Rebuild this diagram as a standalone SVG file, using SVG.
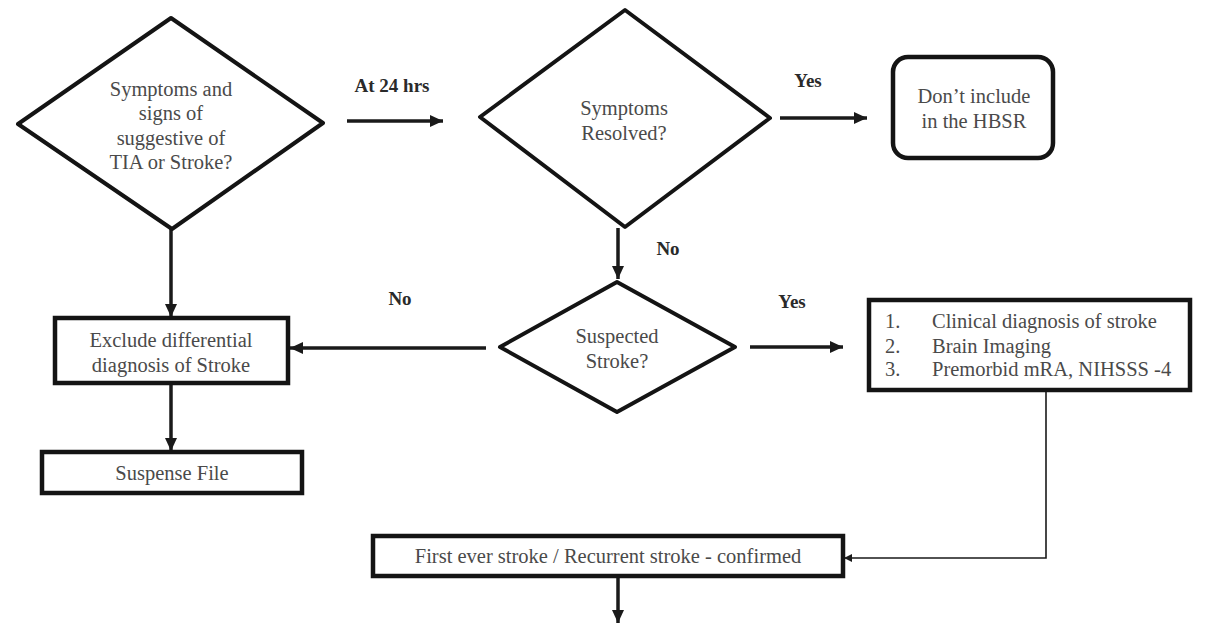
<svg xmlns="http://www.w3.org/2000/svg" width="1212" height="624" viewBox="0 0 1212 624">
  <defs>
    <style>
      .shape { fill: #ffffff; stroke: #141414; stroke-width: 4; stroke-linejoin: round; }
      .box { fill: #ffffff; stroke: #141414; stroke-width: 4.5; }
      .txt { font-family: "Liberation Serif", "Times New Roman", serif; font-size: 20.5px; fill: #4a4a4a; }
      .mid { text-anchor: middle; }
      .lbl { font-family: "Liberation Serif", "Times New Roman", serif; font-size: 19px; font-weight: bold; fill: #2a2a2a; text-anchor: middle; }
      .arrow { fill: none; stroke: #1a1a1a; stroke-width: 3.5; marker-end: url(#head); }
      .thin { fill: none; stroke: #1a1a1a; stroke-width: 1.6; marker-end: url(#headSmall); }
    </style>
    <marker id="head" markerUnits="userSpaceOnUse" markerWidth="14" markerHeight="14" viewBox="0 0 14 14" refX="13" refY="7" orient="auto">
      <path d="M0,1 L13,7 L0,13 Z" fill="#1a1a1a"/>
    </marker>
    <marker id="headSmall" markerUnits="userSpaceOnUse" markerWidth="9" markerHeight="9" viewBox="0 0 9 9" refX="8" refY="4.5" orient="auto">
      <path d="M0,0.5 L8,4.5 L0,8.5 Z" fill="#1a1a1a"/>
    </marker>
  </defs>

  <rect width="1212" height="624" fill="#ffffff"/>

  <!-- connectors -->
  <g id="connectors">
    <path class="arrow" d="M347,121 L443,121"/>
    <path class="arrow" d="M780,118 L867,118"/>
    <path class="arrow" d="M618,228 L618,279"/>
    <path class="arrow" d="M171,229 L171,317"/>
    <path class="arrow" d="M171,383 L171,451"/>
    <path class="arrow" d="M486,348 L290,348"/>
    <path class="arrow" d="M750,347 L843,347"/>
    <path class="thin" d="M1046,390 L1046,558 L844,558"/>
    <path class="arrow" d="M618,576 L618,623"/>
    <text class="lbl" x="392" y="92">At 24 hrs</text>
    <text class="lbl" x="808" y="87">Yes</text>
    <text class="lbl" x="668" y="255">No</text>
    <text class="lbl" x="400" y="305">No</text>
    <text class="lbl" x="792" y="308">Yes</text>
  </g>

  <!-- decision: initial presentation -->
  <g id="symptoms-signs">
    <polygon class="shape" points="171,18 323,123 172,229 18,124"/>
    <text class="txt mid" x="171" y="96">Symptoms and</text>
    <text class="txt mid" x="171" y="120">signs of</text>
    <text class="txt mid" x="171" y="145">suggestive of</text>
    <text class="txt mid" x="171" y="169">TIA or Stroke?</text>
  </g>

  <!-- decision: resolved within 24 hours -->
  <g id="symptoms-resolved">
    <polygon class="shape" points="625,10 770,118 625,227 480,117"/>
    <text class="txt mid" x="624" y="115">Symptoms</text>
    <text class="txt mid" x="624" y="140">Resolved?</text>
  </g>

  <!-- terminal: excluded from register -->
  <g id="dont-include">
    <rect class="box" x="893" y="57" width="160" height="101" rx="15" ry="15"/>
    <text class="txt mid" x="974" y="103">Don’t include</text>
    <text class="txt mid" x="974" y="128">in the HBSR</text>
  </g>

  <!-- decision: suspected stroke -->
  <g id="suspected-stroke">
    <polygon class="shape" points="617,282 735,347 617,412 500,347"/>
    <text class="txt mid" x="617" y="343">Suspected</text>
    <text class="txt mid" x="617" y="368">Stroke?</text>
  </g>

  <!-- process: exclude differentials -->
  <g id="exclude-differential">
    <rect class="box" x="55" y="318" width="233" height="65"/>
    <text class="txt mid" x="171" y="347">Exclude differential</text>
    <text class="txt mid" x="171" y="372">diagnosis of Stroke</text>
  </g>

  <!-- process: suspense file -->
  <g id="suspense-file">
    <rect class="box" x="42" y="452" width="260" height="41"/>
    <text class="txt mid" x="172" y="480">Suspense File</text>
  </g>

  <!-- process: confirmation criteria -->
  <g id="criteria">
    <rect class="box" x="869" y="300" width="321" height="90"/>
    <text class="txt" x="885" y="328">1.</text>
    <text class="txt" x="932" y="328">Clinical diagnosis of stroke</text>
    <text class="txt" x="885" y="353">2.</text>
    <text class="txt" x="932" y="353">Brain Imaging</text>
    <text class="txt" x="885" y="376">3.</text>
    <text class="txt" x="932" y="376">Premorbid mRA, NIHSSS -4</text>
  </g>

  <!-- process: confirmed stroke -->
  <g id="confirmed">
    <rect class="box" x="373" y="536" width="470" height="40"/>
    <text class="txt mid" x="608" y="563">First ever stroke / Recurrent stroke - confirmed</text>
  </g>
</svg>
